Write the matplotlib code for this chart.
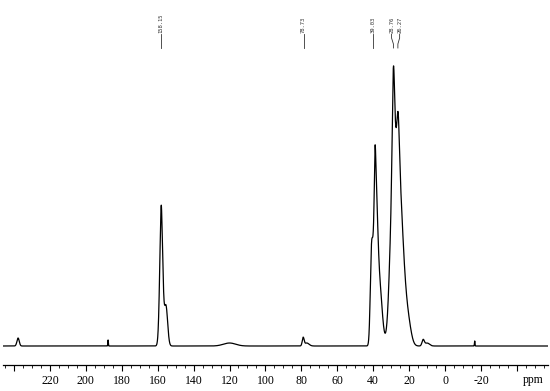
import numpy as np
import matplotlib
matplotlib.use("Agg")
import matplotlib.pyplot as plt
from matplotlib.ticker import FixedLocator, FixedFormatter
import matplotlib.transforms as mtransforms

# ---- data ----
# Gaussian components of the spectrum: centre (ppm), height, FWHM (ppm)
peak_ppm    = [237.7, 187.6, 158.0, 158.0, 155.4, 120.0, 79.0, 77.0,
               41.0, 38.8, 39.0, 36.5,
               30.0, 28.8, 27.2, 26.1, 23.8, 20.5, 12.2, 10.0, -16.5]
peak_height = [8.0, 6.0, 130.0, 10.0, 40.0, 3.0, 8.0, 3.0,
               80.0, 150.0, 37.0, 58.0,
               40.0, 98.0, 195.0, 32.0, 55.0, 20.0, 6.0, 3.0, 5.0]
peak_fwhm   = [1.5, 0.35, 2.0, 0.6, 2.2, 8.0, 1.2, 3.0,
               1.6, 2.6, 0.8, 3.5,
               3.0, 1.5, 5.4, 1.3, 4.5, 4.0, 1.5, 3.0, 0.35]

major_ticks = [240, 220, 200, 180, 160, 140, 120, 100, 80, 60, 40, 20, 0, -20, -40]
major_labels = ['', '220', '200', '180', '160', '140', '120', '100', '80', '60',
                '40', '20', '0', '-20', '']

label_values = ['158.15', '78.73', '39.03', '28.76', '26.27']
label_text_x = [158.15, 78.73, 39.9, 29.8, 25.3]
label_peak_x = [158.15, 78.73, 39.9, 28.76, 26.27]

# ---- spectrum ----
ppm = np.arange(246.5, -57.5, -0.02)
spec = np.zeros_like(ppm)
for c, h, w in zip(peak_ppm, peak_height, peak_fwhm):
    spec += h * np.exp(-4 * np.log(2) * ((ppm - c) / w) ** 2)

fig = plt.figure(figsize=(5.5, 3.91), dpi=100)
ax = fig.add_axes([3 / 550, 26 / 391, 545 / 550, 365 / 391])
ax.plot(ppm, spec, color='black', lw=0.9)

ax.set_xlim(246.1, -57.3)
ax.set_ylim(-19, 346)

for s in ['top', 'left', 'right']:
    ax.spines[s].set_visible(False)
ax.spines['bottom'].set_linewidth(0.9)
ax.set_yticks([])
ax.xaxis.set_major_locator(FixedLocator(major_ticks))
ax.xaxis.set_major_formatter(FixedFormatter(major_labels))
ax.xaxis.set_minor_locator(FixedLocator([v for v in range(245, -60, -5) if v % 20 != 0]))
ax.tick_params(axis='x', which='major', length=4, width=0.8, pad=3,
               labelsize=8.5, direction='out')
ax.tick_params(axis='x', which='minor', length=2, width=0.6, direction='out')
for lab in ax.get_xticklabels():
    lab.set_fontfamily('Liberation Serif')

trans = mtransforms.blended_transform_factory(ax.transData, ax.transAxes)
ax.text(-49, -18 / 365, 'ppm', transform=trans, ha='center', va='baseline',
        fontsize=8.5, fontfamily='Liberation Serif')

# peak labels at the top
ytxt = 346 - 34
for val, tx, px in zip(label_values, label_text_x, label_peak_x):
    ax.text(tx, ytxt + 1, val, rotation=90, ha='center', va='bottom',
            fontsize=4, fontfamily='DejaVu Sans Mono', color='#333333')
    ax.plot([tx, tx, px, px], [ytxt, 346 - 38, 346 - 44, 346 - 48],
            color='#333333', lw=0.6)

fig.savefig('out.png', dpi=100)
